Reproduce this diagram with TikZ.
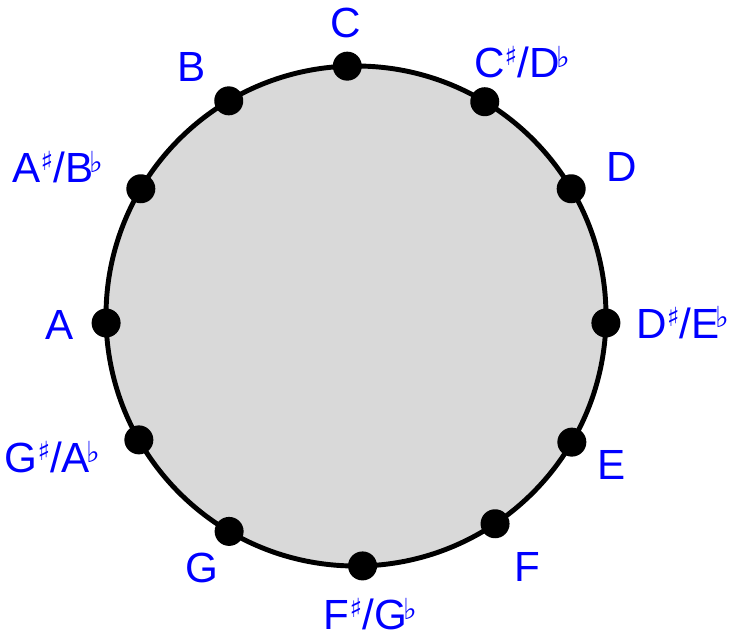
\documentclass[tikz,border=0pt]{standalone}
\usepackage{fontspec}
\setmainfont{Liberation Sans}
\newfontfamily\musicfont{DejaVu Sans}
\newcommand{\shp}{\raisebox{0.28em}{\musicfont\fontsize{15}{15}\selectfont ♯}}
\newcommand{\flt}{\kern-2pt\raisebox{0.24em}{\musicfont\fontsize{16.5}{16.5}\selectfont ♭}}

\begin{document}
\begin{tikzpicture}[
    pitchdot/.style={circle, fill=black, inner sep=0pt, minimum size=0.58cm},
    notename/.style={text=blue, anchor=base, inner sep=0pt, font=\fontsize{24}{28}\selectfont}
  ]
            \useasboundingbox (-7.12,-6.40) rectangle (7.50,6.32);

            \draw [line width=2.8pt, fill=black!15] (0,0) circle (5);

            \node (c)   [pitchdot] at (92:5) {};
            \node (cis) [pitchdot] at (59:5) {};
            \node (d)   [pitchdot] at (30.6:5) {};
            \node (dis) [pitchdot] at (-1.6:5) {};
            \node (e)   [pitchdot] at (-30.3:5) {};
            \node (f)   [pitchdot] at (-56.2:5) {};
            \node (fis) [pitchdot] at (-88.5:5) {};
            \node (g)   [pitchdot] at (-120.5:5) {};
            \node (gis) [pitchdot] at (-150.3:5) {};
            \node (a)   [pitchdot] at (181.6:5) {};
            \node (ais) [pitchdot] at (149.4:5) {};
            \node (b)   [pitchdot] at (120.6:5) {};

            \node (cname)   [notename] at (-0.20, 5.57) {C};
            \node (cisname) [notename] at (3.32, 4.77) {C\shp/D\flt};
            \node (dname)   [notename] at (5.32, 2.69) {D};
            \node (disname) [notename] at (6.54,-0.44) {D\shp/E\flt};
            \node (ename)   [notename] at (5.12,-3.27) {E};
            \node (fname)   [notename] at (3.42,-5.31) {F};
            \node (fisname) [notename] at (0.29,-6.27) {F\shp/G\flt};
            \node (gname)   [notename] at (-3.08,-5.33) {G};
            \node (gisname) [notename] at (-6.07,-3.13) {G\shp/A\flt};
            \node (aname)   [notename] at (-5.92,-0.47) {A};
            \node (aisname) [notename] at (-5.96, 2.67) {A\shp/B\flt};
            \node (bname)   [notename] at (-3.28, 4.69) {B};

        \end{tikzpicture}
\end{document}
